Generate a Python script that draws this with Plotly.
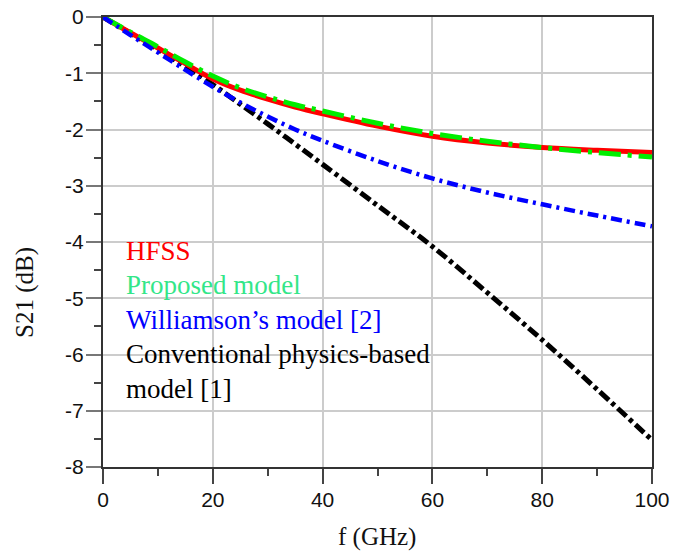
import plotly.graph_objects as go

freq = [0, 5, 10, 15, 20, 25, 30, 35, 40, 50, 60, 70, 80, 90, 100]
hfss = [0, -0.28, -0.55, -0.83, -1.10, -1.30, -1.46, -1.60, -1.72, -1.94, -2.12, -2.24, -2.32, -2.37, -2.41]
proposed = [0, -0.27, -0.53, -0.80, -1.05, -1.26, -1.42, -1.56, -1.67, -1.89, -2.07, -2.21, -2.32, -2.41, -2.49]
williamson = [0, -0.32, -0.63, -0.94, -1.24, -1.52, -1.77, -2.00, -2.20, -2.56, -2.87, -3.12, -3.33, -3.53, -3.72]
conventional = [0, -0.29, -0.58, -0.88, -1.20, -1.55, -1.90, -2.26, -2.62, -3.35, -4.08, -4.90, -5.74, -6.62, -7.52]

x_ticks = [0, 20, 40, 60, 80, 100]
y_ticks = [0, -1, -2, -3, -4, -5, -6, -7, -8]

legend_lines = ["HFSS", "Proposed model", "Williamson’s model [2]",
                "Conventional physics-based", "model [1]"]
legend_colors = ["#ff0000", "#33e688", "#0000ff", "#000000", "#000000"]

fig = go.Figure()
fig.add_trace(go.Scatter(x=freq, y=conventional, mode="lines", line_shape="spline",
                         line=dict(color="#000000", width=5, dash="12px,4px,4px,4px")))
fig.add_trace(go.Scatter(x=freq, y=hfss, mode="lines", line_shape="spline",
                         line=dict(color="#ff0000", width=5)))
fig.add_trace(go.Scatter(x=freq, y=proposed, mode="lines", line_shape="spline",
                         line=dict(color="#00ee00", width=5, dash="22px,7px,4px,7px")))
fig.add_trace(go.Scatter(x=freq, y=williamson, mode="lines", line_shape="spline",
                         line=dict(color="#0000ff", width=4.5, dash="11px,5px,3px,5px")))

serif = "Liberation Serif, Times New Roman, serif"
sans = "Liberation Sans, Arial, sans-serif"

L, R, T, B = 103, 652, 17, 467


def px_to_paper_x(px):
    return (px - L) / (R - L)


def px_to_paper_y(py):
    return (B - py) / (B - T)


annotations = []
centers = [251, 285, 320, 354, 389]
for lab, col, yy in zip(legend_lines, legend_colors, centers):
    annotations.append(dict(text=lab, x=px_to_paper_x(124), y=px_to_paper_y(yy),
                            xref="paper", yref="paper",
                            showarrow=False, align="left", xanchor="left", yanchor="middle",
                            font=dict(family=serif, size=27, color=col)))

annotations.append(dict(text="f (GHz)", x=px_to_paper_x(377), y=px_to_paper_y(537),
                        xref="paper", yref="paper", showarrow=False,
                        xanchor="center", yanchor="middle",
                        font=dict(family=serif, size=25, color="#111111")))
annotations.append(dict(text="S21 (dB)", x=px_to_paper_x(25), y=px_to_paper_y(293),
                        xref="paper", yref="paper", showarrow=False, textangle=-90,
                        xanchor="center", yanchor="middle",
                        font=dict(family=serif, size=25, color="#111111")))

fig.update_layout(
    width=675, height=559,
    margin=dict(l=L, r=675 - R, t=T, b=559 - B),
    paper_bgcolor="white", plot_bgcolor="white",
    showlegend=False,
    annotations=annotations,
    xaxis=dict(range=[0, 100], tickvals=x_ticks, ticktext=[str(v) for v in x_ticks],
               showgrid=True, gridcolor="#cccccc", gridwidth=1.5, automargin=False,
               showline=True, linecolor="#333333", linewidth=2, mirror=True,
               ticks="outside", ticklen=15, tickwidth=1.5, tickcolor="#444444",
               minor=dict(dtick=10, ticks="outside", ticklen=7, tickcolor="#444444", showgrid=False),
               tickfont=dict(family=sans, size=21, color="#111111"), ticklabelstandoff=-2,
               zeroline=False),
    yaxis=dict(range=[-8, 0], tickvals=y_ticks, ticktext=[str(v) for v in y_ticks],
               showgrid=True, gridcolor="#cccccc", gridwidth=1.5, automargin=False,
               showline=True, linecolor="#333333", linewidth=2, mirror=True,
               ticks="outside", ticklen=15, tickwidth=1.5, tickcolor="#777777",
               minor=dict(dtick=0.5, ticks="outside", ticklen=7, tickcolor="#444444", showgrid=False),
               tickfont=dict(family=sans, size=21, color="#111111"), ticklabelstandoff=-2,
               zeroline=False),
)

fig.write_html("out.html")
